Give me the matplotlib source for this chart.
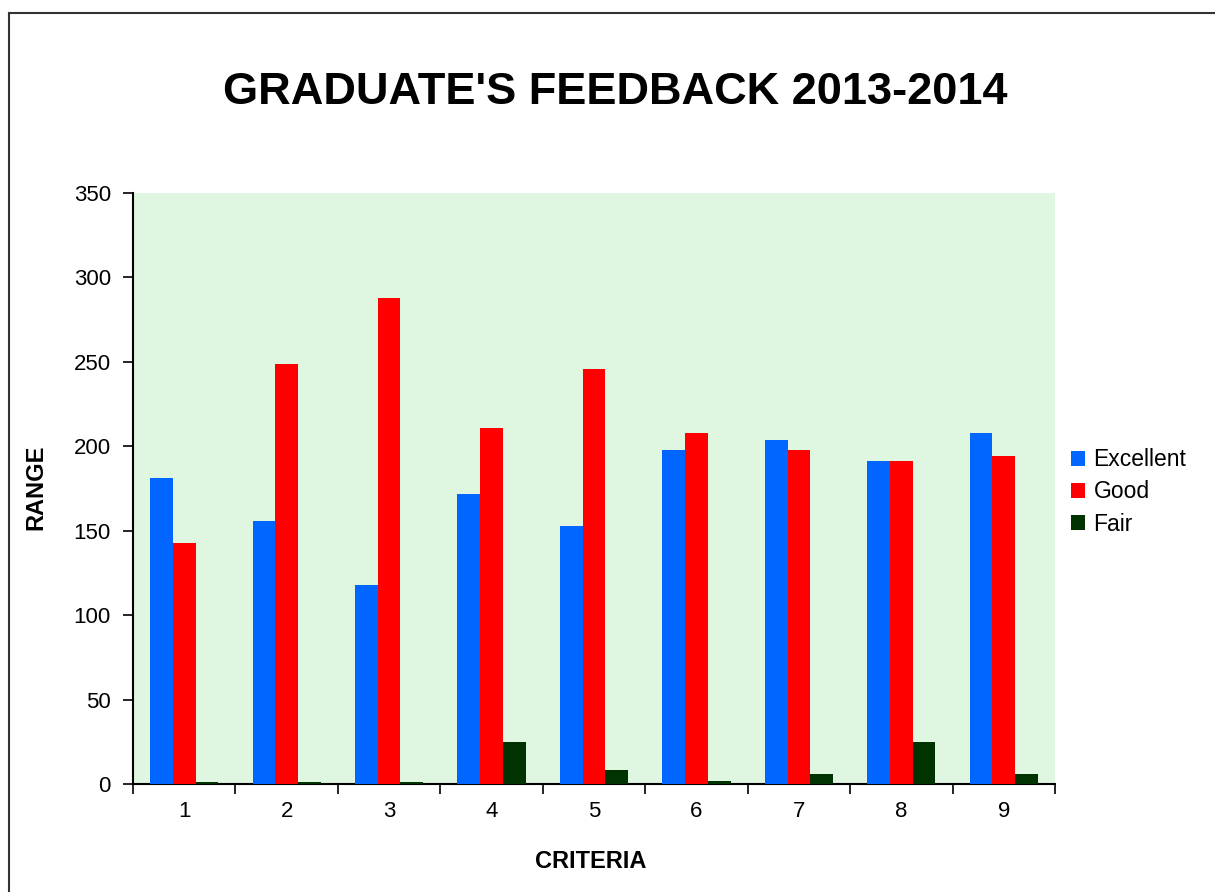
import matplotlib
matplotlib.use("Agg")
import matplotlib.pyplot as plt
import numpy as np
from matplotlib.lines import Line2D

categories = ["1", "2", "3", "4", "5", "6", "7", "8", "9"]
excellent = [181, 156, 118, 172, 153, 198, 204, 191, 208]
good = [143, 249, 288, 211, 246, 208, 198, 191, 194]
fair = [1, 1, 1, 25, 8, 2, 6, 25, 6]
series_names = ["Excellent", "Good", "Fair"]
colors = ["#0066FF", "#FF0000", "#003300"]
yticks = [0, 50, 100, 150, 200, 250, 300, 350]

plt.rcParams['font.family'] = ['Liberation Sans', 'DejaVu Sans']

W, H = 1215, 892
fig = plt.figure(figsize=(W / 100, H / 100), dpi=100)
fig.patch.set_facecolor("white")

# border of the chart area
fig.add_artist(Line2D([9 / W, 1.0], [1 - 13 / H, 1 - 13 / H], color="#333333", lw=1.5))
fig.add_artist(Line2D([9 / W, 9 / W], [0.0, 1 - 13 / H], color="#333333", lw=1.5))

left, right, top, bottom = 133, 1055, 193, 784
ax = fig.add_axes([left / W, 1 - bottom / H, (right - left) / W, (bottom - top) / H])
ax.set_facecolor("#DFF6E0")

x = np.arange(len(categories))
w = 1 / 4.5
for i, (vals, name, c) in enumerate(zip([excellent, good, fair], series_names, colors)):
    ax.bar(x + (i - 1) * w, vals, width=w, color=c, label=name, zorder=3)

ax.set_xlim(-0.5, len(categories) - 0.5)
ax.set_ylim(0, 350)
ax.set_yticks(yticks)
ax.set_xticks(x)
ax.set_xticklabels(categories)
ax.set_xticks(np.arange(-0.5, len(categories)), minor=True)
ax.tick_params(axis="x", which="major", length=0, labelsize=16, pad=12)
ax.tick_params(axis="x", which="minor", length=7, width=1.2, direction="out")
ax.tick_params(axis="y", length=7, width=1.2, labelsize=16, pad=9)

for s in ["top", "right"]:
    ax.spines[s].set_visible(False)
for s in ["left", "bottom"]:
    ax.spines[s].set_linewidth(1.5)
    ax.spines[s].set_color("black")

fig.text(615 / W, 1 - 93 / H, "GRADUATE'S FEEDBACK 2013-2014", ha="center", va="center",
         fontsize=32.5, fontweight="bold")
fig.text(36 / W, 1 - 487 / H, "RANGE", ha="center", va="center", rotation=90,
         fontsize=17, fontweight="bold")
fig.text(591 / W, 1 - 862 / H, "CRITERIA", ha="center", va="center",
         fontsize=17, fontweight="bold")

leg = fig.legend(loc="upper left", bbox_to_anchor=(1062 / W, 1 - 439 / H), frameon=False,
                 fontsize=16.5, handlelength=0.62, handleheight=0.62, handletextpad=0.35,
                 labelspacing=0.4, borderaxespad=0)

fig.savefig("out.png", dpi=100)
